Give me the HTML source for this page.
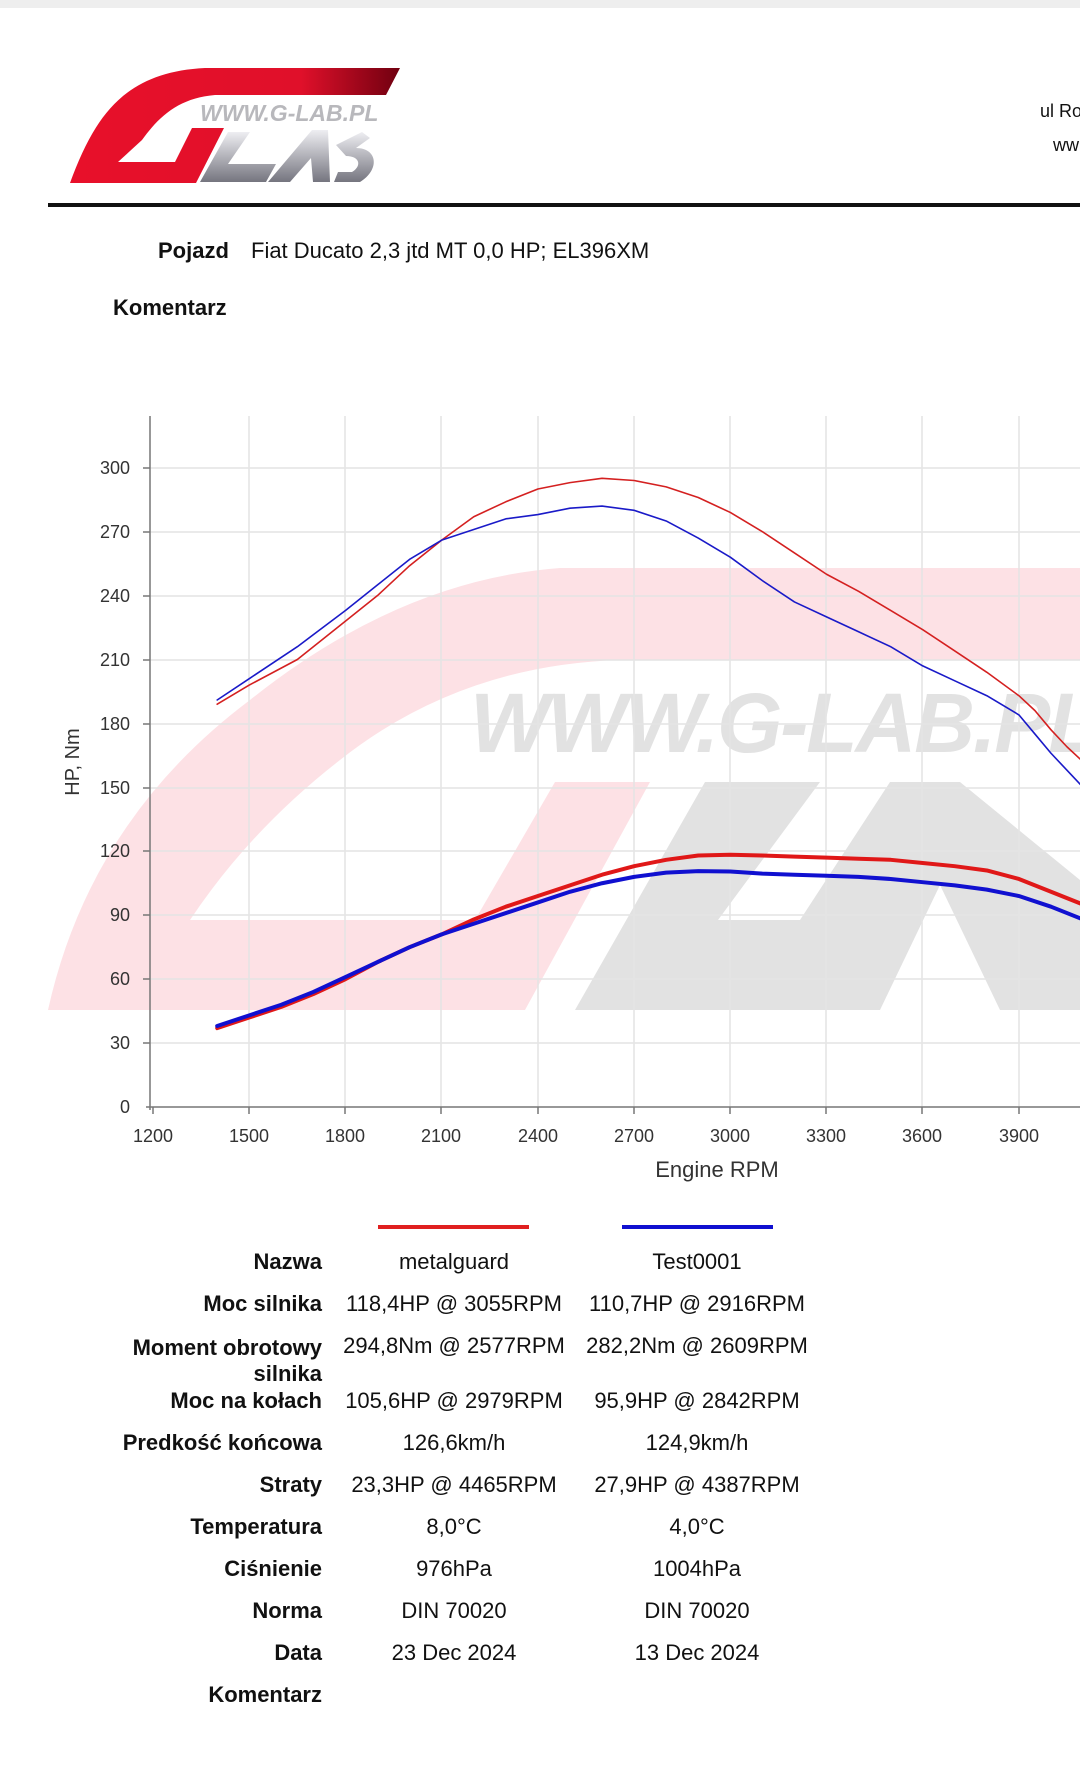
<!DOCTYPE html>
<html><head><meta charset="utf-8"><style>
html,body{margin:0;padding:0;background:#fff;}
body{width:1080px;height:1770px;position:relative;overflow:hidden;font-family:"Liberation Sans",sans-serif;color:#111;}
.t{position:absolute;white-space:nowrap;font-size:22px;line-height:1;}
.b{font-weight:bold;}
.r{text-align:right;}
.c{text-align:center;width:260px;}
</style></head><body>
<div style="position:absolute;left:0;top:0;width:1080px;height:8px;background:#eee"></div>
<svg style="position:absolute;left:0;top:0" width="1080" height="1770">
 <defs>
  <linearGradient id="rg" x1="0" x2="1" y1="0" y2="0"><stop offset="0" stop-color="#e8102a"/><stop offset=".7" stop-color="#e0102a"/><stop offset="1" stop-color="#700010"/></linearGradient>
  <linearGradient id="gg" x1="0" x2="0" y1="0" y2="1"><stop offset="0" stop-color="#eeeef2"/><stop offset="1" stop-color="#75757f"/></linearGradient>
 </defs>
 <!-- logo -->
 <path d="M70,183 C95,115 125,72 205,68 L400,68 L386,95 L215,95 C180,98 160,115 142,140 L118,162 L175,162 L192,128 L224,128 L196,183 Z" fill="url(#rg)"/>
 <path d="M200,182 L228,132 L250,132 L228,164 L276,164 L266,182 Z" fill="url(#gg)"/>
 <path d="M268,182 L312,130 L328,130 L330,182 L313,182 L311,158 L290,182 Z" fill="url(#gg)"/>
 <path d="M336,145 L362,132 L370,138 L356,148 C378,148 380,170 360,182 L334,182 L338,172 L352,172 C362,166 360,156 346,156 Z" fill="url(#gg)"/>
 <text x="200" y="121" font-family="Liberation Sans" font-weight="bold" font-style="italic" font-size="23" fill="#b8b8bc">WWW.G-LAB.PL</text>
 <rect x="48" y="203" width="1032" height="4" fill="#111"/>
 <!-- watermark -->
 <path d="M48,1010 Q90,820 250,700 Q400,580 560,568 L1080,568 L1080,660 L620,660 Q460,665 340,760 Q250,830 190,920 L475,920 L555,782 L650,782 L525,1010 Z" fill="#fde1e5"/>
 <path d="M575,1010 L705,782 L820,782 L718,920 L800,920 L890,782 L960,782 L1080,880 L1080,1010 L1000,1010 L940,885 L880,1010 Z" fill="#e2e2e2"/>
 <text x="470" y="752" font-family="Liberation Sans" font-weight="bold" font-style="italic" font-size="84" fill="#e2e2e2" letter-spacing="-2">WWW.G-LAB.PL</text>
 <!-- grid -->
 <g stroke="#e4e4e4" stroke-width="1.5">
  <line x1="249" y1="416" x2="249" y2="1107"/><line x1="345" y1="416" x2="345" y2="1107"/><line x1="441" y1="416" x2="441" y2="1107"/><line x1="538" y1="416" x2="538" y2="1107"/><line x1="634" y1="416" x2="634" y2="1107"/><line x1="730" y1="416" x2="730" y2="1107"/><line x1="826" y1="416" x2="826" y2="1107"/><line x1="922" y1="416" x2="922" y2="1107"/><line x1="1019" y1="416" x2="1019" y2="1107"/>
  <line x1="150" y1="1043" x2="1080" y2="1043"/><line x1="150" y1="979" x2="1080" y2="979"/><line x1="150" y1="915" x2="1080" y2="915"/><line x1="150" y1="851" x2="1080" y2="851"/><line x1="150" y1="788" x2="1080" y2="788"/><line x1="150" y1="724" x2="1080" y2="724"/><line x1="150" y1="660" x2="1080" y2="660"/><line x1="150" y1="596" x2="1080" y2="596"/><line x1="150" y1="532" x2="1080" y2="532"/><line x1="150" y1="468" x2="1080" y2="468"/>
 </g>
 <g stroke="#777" stroke-width="1.5">
  <line x1="150" y1="416" x2="150" y2="1110"/><line x1="146" y1="1107" x2="1080" y2="1107"/>
  <line x1="143" y1="1043" x2="150" y2="1043"/><line x1="143" y1="979" x2="150" y2="979"/><line x1="143" y1="915" x2="150" y2="915"/><line x1="143" y1="851" x2="150" y2="851"/><line x1="143" y1="788" x2="150" y2="788"/><line x1="143" y1="724" x2="150" y2="724"/><line x1="143" y1="660" x2="150" y2="660"/><line x1="143" y1="596" x2="150" y2="596"/><line x1="143" y1="532" x2="150" y2="532"/><line x1="143" y1="468" x2="150" y2="468"/>
  <line x1="153" y1="1107" x2="153" y2="1114"/><line x1="249" y1="1107" x2="249" y2="1114"/><line x1="345" y1="1107" x2="345" y2="1114"/><line x1="441" y1="1107" x2="441" y2="1114"/><line x1="538" y1="1107" x2="538" y2="1114"/><line x1="634" y1="1107" x2="634" y2="1114"/><line x1="730" y1="1107" x2="730" y2="1114"/><line x1="826" y1="1107" x2="826" y2="1114"/><line x1="922" y1="1107" x2="922" y2="1114"/><line x1="1019" y1="1107" x2="1019" y2="1114"/>
 </g>
 <g font-family="Liberation Sans" font-size="18" fill="#333" text-anchor="end">
  <text x="130" y="1113">0</text><text x="130" y="1049">30</text><text x="130" y="985">60</text><text x="130" y="921">90</text><text x="130" y="857">120</text><text x="130" y="794">150</text><text x="130" y="730">180</text><text x="130" y="666">210</text><text x="130" y="602">240</text><text x="130" y="538">270</text><text x="130" y="474">300</text>
 </g>
 <g font-family="Liberation Sans" font-size="18" fill="#333" text-anchor="middle">
  <text x="153" y="1142">1200</text><text x="249" y="1142">1500</text><text x="345" y="1142">1800</text><text x="441" y="1142">2100</text><text x="538" y="1142">2400</text><text x="634" y="1142">2700</text><text x="730" y="1142">3000</text><text x="826" y="1142">3300</text><text x="922" y="1142">3600</text><text x="1019" y="1142">3900</text>
 </g>
 <text x="717" y="1177" font-family="Liberation Sans" font-size="22" fill="#333" text-anchor="middle">Engine RPM</text>
 <text transform="translate(79,762) rotate(-90)" font-family="Liberation Sans" font-size="20" fill="#333" text-anchor="middle">HP, Nm</text>
 <!-- curves -->
 <g transform="translate(-231.8,1107) scale(0.3207,-2.131)" fill="none" stroke-linejoin="round" stroke-linecap="round">
  <polyline vector-effect="non-scaling-stroke" stroke="#d42020" stroke-width="1.6" points="1400,189 1500,198 1650,210 1800,228 1900,240 2000,254 2100,266 2200,277 2300,284 2400,290 2500,293 2600,295 2700,294 2800,291 2900,286 3000,279 3100,270 3200,260 3300,250 3400,242 3500,233 3600,224 3700,214 3800,204 3900,193 3950,186 4000,177 4050,169 4100,162"/>
  <polyline vector-effect="non-scaling-stroke" stroke="#1a1ac8" stroke-width="1.6" points="1400,191 1500,201 1650,216 1800,233 1900,245 2000,257 2100,266 2200,271 2300,276 2400,278 2500,281 2600,282 2700,280 2800,275 2900,267 3000,258 3100,247 3200,237 3300,230 3400,223 3500,216 3600,207 3700,200 3800,193 3900,184 3950,175 4000,166 4100,150"/>
  <polyline vector-effect="non-scaling-stroke" stroke="#e01818" stroke-width="4" points="1400,37 1500,42 1600,47 1700,53 1800,60 1900,68 2000,75 2100,81 2200,88 2300,94 2400,99 2500,104 2600,109 2700,113 2800,116 2900,118 3000,118.4 3100,118 3200,117.5 3300,117 3400,116.5 3500,116 3600,114.5 3700,113 3800,111 3900,107 4000,101 4100,95"/>
  <polyline vector-effect="non-scaling-stroke" stroke="#1010d0" stroke-width="4" points="1400,38 1500,43 1600,48 1700,54 1800,61 1900,68 2000,75 2100,81 2200,86 2300,91 2400,96 2500,101 2600,105 2700,108 2800,110 2900,110.7 3000,110.5 3100,109.5 3200,109 3300,108.5 3400,108 3500,107 3600,105.5 3700,104 3800,102 3900,99 4000,94 4100,88"/>
 </g>
 <rect x="378" y="1225" width="151" height="4" fill="#e02020"/>
 <rect x="622" y="1225" width="151" height="4" fill="#1010d0"/>
</svg>
<div class="t" style="left:1040px;top:102px;font-size:18px">ul Ro</div>
<div class="t" style="left:1053px;top:136px;font-size:18px">ww</div>
<div class="t b" style="left:158px;top:240px">Pojazd</div>
<div class="t" style="left:251px;top:240px">Fiat Ducato 2,3 jtd MT 0,0 HP; EL396XM</div>
<div class="t b" style="left:113px;top:297px">Komentarz</div>

<div class="t b r" style="right:758px;top:1251px">Nazwa</div>
<div class="t c" style="left:324px;top:1251px">metalguard</div>
<div class="t c" style="left:567px;top:1251px">Test0001</div>

<div class="t b r" style="right:758px;top:1293px">Moc silnika</div>
<div class="t c" style="left:324px;top:1293px">118,4HP @ 3055RPM</div>
<div class="t c" style="left:567px;top:1293px">110,7HP @ 2916RPM</div>

<div class="t b r" style="right:758px;top:1335px;line-height:26px">Moment obrotowy<br>silnika</div>
<div class="t c" style="left:324px;top:1335px">294,8Nm @ 2577RPM</div>
<div class="t c" style="left:567px;top:1335px">282,2Nm @ 2609RPM</div>

<div class="t b r" style="right:758px;top:1390px">Moc na kołach</div>
<div class="t c" style="left:324px;top:1390px">105,6HP @ 2979RPM</div>
<div class="t c" style="left:567px;top:1390px">95,9HP @ 2842RPM</div>

<div class="t b r" style="right:758px;top:1432px">Predkość końcowa</div>
<div class="t c" style="left:324px;top:1432px">126,6km/h</div>
<div class="t c" style="left:567px;top:1432px">124,9km/h</div>

<div class="t b r" style="right:758px;top:1474px">Straty</div>
<div class="t c" style="left:324px;top:1474px">23,3HP @ 4465RPM</div>
<div class="t c" style="left:567px;top:1474px">27,9HP @ 4387RPM</div>

<div class="t b r" style="right:758px;top:1516px">Temperatura</div>
<div class="t c" style="left:324px;top:1516px">8,0°C</div>
<div class="t c" style="left:567px;top:1516px">4,0°C</div>

<div class="t b r" style="right:758px;top:1558px">Ciśnienie</div>
<div class="t c" style="left:324px;top:1558px">976hPa</div>
<div class="t c" style="left:567px;top:1558px">1004hPa</div>

<div class="t b r" style="right:758px;top:1600px">Norma</div>
<div class="t c" style="left:324px;top:1600px">DIN 70020</div>
<div class="t c" style="left:567px;top:1600px">DIN 70020</div>

<div class="t b r" style="right:758px;top:1642px">Data</div>
<div class="t c" style="left:324px;top:1642px">23 Dec 2024</div>
<div class="t c" style="left:567px;top:1642px">13 Dec 2024</div>

<div class="t b r" style="right:758px;top:1684px">Komentarz</div>
</body></html>
